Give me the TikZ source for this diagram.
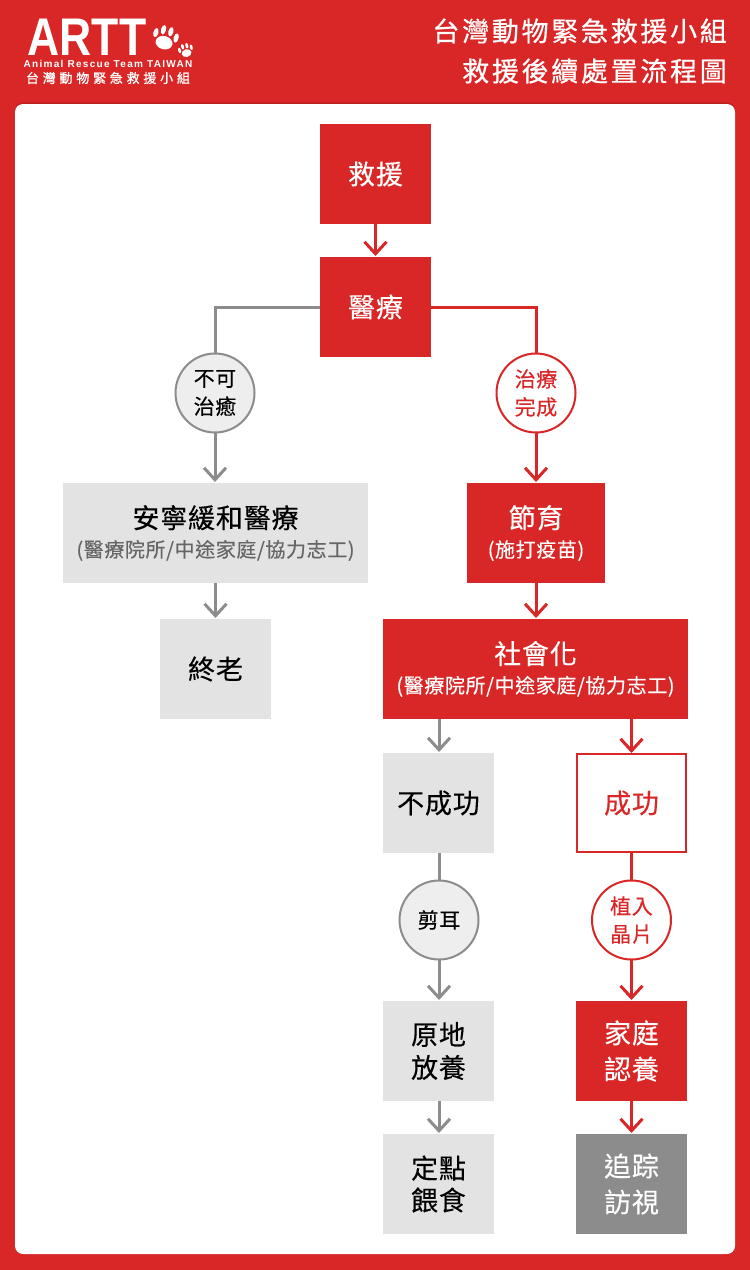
\documentclass[tikz,border=0pt]{standalone}
\usepackage{fontspec}
\setmainfont[LetterSpace=3,FakeBold=0.3]{Noto Sans CJK TC}
\newfontfamily\titlefont[LetterSpace=10,FakeBold=0.7]{Noto Sans CJK TC}
\newfontfamily\logofont{Liberation Sans}
\newfontfamily\logotag[LetterSpace=13]{Liberation Sans}
\newfontfamily\logocjk[LetterSpace=29,FakeBold=1]{Noto Sans CJK TC}
\usetikzlibrary{arrows.meta,positioning,calc}
\definecolor{artred}{HTML}{D92626}
\definecolor{artdark}{HTML}{B82020}
\definecolor{stepgray}{HTML}{E3E3E3}
\definecolor{linegray}{HTML}{8C8C8C}
\definecolor{roundgray}{HTML}{EEEEEE}
\definecolor{subgray}{HTML}{666666}
\tikzset{
  flowbox/.style={rectangle, minimum width=111pt, minimum height=100pt, inner sep=0pt,
    outer sep=0pt, align=center, font=\fontsize{27}{33}\selectfont},
  redbox/.style={flowbox, fill=artred, text=white},
  graybox/.style={flowbox, fill=stepgray, text=black},
  openbox/.style={flowbox, draw=artred, fill=white, text=artred, line width=2pt,
    minimum width=109pt, minimum height=98pt},
  endbox/.style={flowbox, fill=linegray, text=white},
  gateround/.style={circle, minimum size=79pt, inner sep=0pt, outer sep=0pt, align=center,
    line width=2pt, font=\fontsize{21}{28}\selectfont},
  grayround/.style={gateround, draw=linegray, fill=roundgray, text=black},
  redround/.style={gateround, draw=artred, fill=white, text=artred},
  redflow/.style={-{Straight Barb[length=12pt,width=22pt,line width=3pt]}, line width=3pt,
    color=artred, shorten >=1pt},
  grayflow/.style={redflow, color=linegray},
  redlink/.style={line width=3pt, color=artred},
  graylink/.style={line width=3pt, color=linegray},
  pics/pawmark/.style={code={
    \fill[white] (0,4) ellipse [x radius=9, y radius=7];
    \fill[white] (-11,-4) ellipse [x radius=2.6, y radius=5];
    \fill[white] (-4,-9) ellipse [x radius=2.6, y radius=5];
    \fill[white] (4,-9) ellipse [x radius=2.6, y radius=5];
    \fill[white] (11,-4) ellipse [x radius=2.6, y radius=5];
  }},
}
\newcommand{\subline}{\fontsize{20}{27}\selectfont}
\begin{document}
\begin{tikzpicture}[x=1pt,y=-1pt]
  \useasboundingbox (0,0) rectangle (750,1270);
  \fill[artred] (0,0) rectangle (750,1270);
  \fill[artdark, rounded corners=8pt] (15,102.5) rectangle (735,1254);
  \fill[white, rounded corners=8pt] (15,104) rectangle (735,1254);
  % header
  \node[text=white, font=\logofont\fontsize{53}{53}\selectfont\bfseries, xscale=0.84,
    transform shape, inner sep=0pt] (logo) at (87,37.5) {ARTT};
  \pic[rotate=-15, scale=0.95] at (165,39) {pawmark};
  \pic[rotate=15, scale=0.55] at (186,51) {pawmark};
  \node[text=white, font=\logotag\fontsize{10}{10}\selectfont\bfseries, inner sep=0pt] (tagline) at (108,64) {Animal Rescue Team TAIWAN};
  \node[text=white, font=\logocjk\fontsize{13}{13}\selectfont, inner sep=0pt] (logoname) at (108,78) {台灣動物緊急救援小組};
  \node[text=white, font=\titlefont\fontsize{27}{40}\selectfont, align=right, anchor=east, inner sep=0pt] (title) at (727,51) {台灣動物緊急救援小組\\救援後續處置流程圖};
  % main line
  \node[redbox] (rescue) at (375.5,174) {救援};
  \node[redbox] (medical) at (375.5,307) {醫療};
  \node[grayround] (incurable) at (215,393) {不可\\治癒};
  \node[redround] (treated) at (536,393) {治療\\完成};
  \node[graybox, minimum width=305pt] (hospice) at (215.5,533)
    {安寧緩和醫療\\[-4pt]{\subline\color{subgray}(醫療院所/中途家庭/協力志工)}};
  \node[redbox, minimum width=138pt] (neuter) at (536,533)
    {節育\\[-4pt]{\subline(施打疫苗)}};
  \node[graybox] (oldage) at (215.5,669) {終老};
  \node[redbox, minimum width=305pt] (social) at (535.5,669)
    {社會化\\[-4pt]{\subline(醫療院所/中途家庭/協力志工)}};
  % two outcomes
  \node[graybox] (failed) at (438.5,803) {不成功};
  \node[openbox] (success) at (631.5,803) {成功};
  \node[grayround] (eartip) at (439,920) {剪耳};
  \node[redround] (chip) at (631.5,920) {植入\\晶片};
  \node[graybox] (release) at (438.5,1051) {原地\\放養};
  \node[redbox, font=\fontsize{27}{36}\selectfont] (adopt) at (631.5,1051) {家庭\\認養};
  \node[graybox, font=\fontsize{27}{32}\selectfont] (feeding) at (438.5,1184) {定點\\餵食};
  \node[endbox, font=\fontsize{27}{36}\selectfont] (visit) at (631.5,1184) {追踪\\訪視};
  % connectors
  \draw[redflow] (rescue) -- (medical);
  \draw[graylink] (medical.west) -| (incurable.north);
  \draw[redlink] (medical.east) -| (treated.north);
  \draw[grayflow] (incurable) -- (hospice.north -| incurable);
  \draw[redflow] (treated) -- (neuter);
  \draw[grayflow] (hospice.south -| oldage) -- (oldage);
  \draw[redflow] (neuter) -- (social.north -| neuter);
  \draw[grayflow] (social.south -| eartip) -- (failed.north -| eartip);
  \draw[redflow] (social.south -| success) -- (success);
  \draw[graylink] (failed.south -| eartip) -- (eartip);
  \draw[redlink] (success) -- (chip);
  \draw[grayflow] (eartip) -- (release.north -| eartip);
  \draw[redflow] (chip) -- (adopt);
  \draw[grayflow] (release.south -| eartip) -- (feeding.north -| eartip);
  \draw[redflow] (adopt) -- (visit);
\end{tikzpicture}
\end{document}
